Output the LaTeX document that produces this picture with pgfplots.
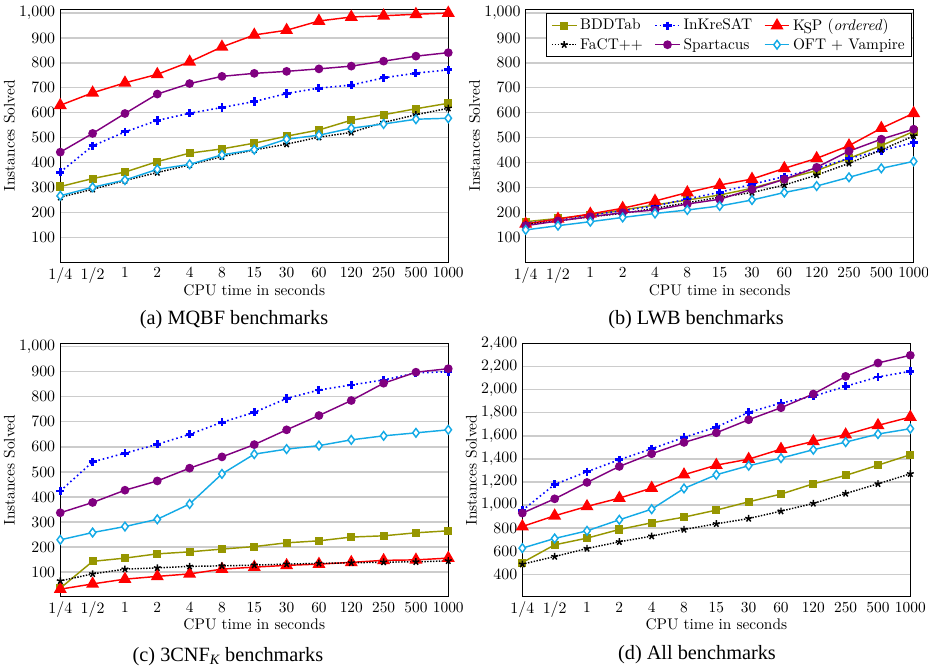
\documentclass[border=0pt]{standalone}
\usepackage{fontspec}
\usepackage{pgfplots}
\usepackage{pgfplotstable}
\pgfplotsset{compat=1.18}
\newfontfamily\capfont{Liberation Serif}
\definecolor{cOlive}{RGB}{150,150,0}
\definecolor{cCyan}{RGB}{20,170,230}
\definecolor{cViolet}{RGB}{128,0,128}

\pgfplotstableread{
x bdd fact ink ksp spa oft
0 304 261 362 630 442 267
1 336 293 467 680 517 301
2 362 328 523 720 597 330
3 404 360 569 754 675 373
4 438 391 598 804 717 393
5 455 424 621 864 746 431
6 478 451 645 912 758 452
7 506 474 677 931 766 494
8 531 502 699 968 776 510
9 570 521 711 984 787 538
10 592 561 740 989 807 555
11 616 592 759 995 827 574
12 638 618 772 1000 841 578
}\tabA
\pgfplotstableread{
x bdd fact ink ksp spa oft
0 163 152 157 154 147 130
1 176 166 172 174 166 147
2 190 183 190 194 183 163
3 210 196 207 217 199 180
4 230 217 226 246 210 196
5 250 239 254 280 234 210
6 270 261 281 310 253 226
7 297 280 313 334 293 250
8 334 310 344 377 333 280
9 368 350 377 417 381 306
10 417 397 417 468 446 341
11 468 451 448 538 494 377
12 525 507 480 598 534 405
}\tabB
\pgfplotstableread{
x bdd fact ink ksp spa oft
0 36 65 424 32 337 229
1 143 93 540 53 378 258
2 156 112 575 72 427 282
3 173 117 610 83 464 311
4 181 123 650 93 515 372
5 192 125 698 112 560 492
6 202 128 738 120 609 571
7 217 132 793 127 668 591
8 225 135 827 132 725 605
9 240 137 847 139 785 628
10 245 140 867 147 854 644
11 257 141 895 149 898 656
12 265 145 900 156 912 668
}\tabC
\pgfplotstableread{
x bdd fact ink ksp spa oft
0 501 487 953 814 930 626
1 655 553 1179 907 1054 710
2 713 623 1289 988 1196 776
3 788 681 1393 1060 1335 872
4 846 730 1488 1147 1445 964
5 895 788 1587 1263 1543 1144
6 956 837 1676 1346 1627 1263
7 1028 883 1804 1398 1740 1341
8 1095 947 1885 1485 1844 1407
9 1184 1014 1943 1552 1963 1480
10 1257 1100 2030 1610 2116 1546
11 1346 1184 2111 1691 2232 1616
12 1436 1271 2160 1763 2299 1662
}\tabD

\pgfplotsset{
  myax/.style={
    scale only axis, width=267.7pt, height=174.6pt,
    anchor=south west,
    xmin=0, xmax=12, xtick={0,...,12},
    xticklabels={$1/4$,$1/2$,1,2,4,8,15,30,60,120,250,500,1000},
    ymajorgrids, grid style={line width=0.9pt, black!20},
    major tick length=0pt,
    xlabel={CPU time in seconds}, ylabel={Instances Solved},
    scaled y ticks=false,
    axis line style={line width=0.8pt},
    clip=false,
    tick label style={font=\fontsize{10.6}{12}\selectfont},
    label style={font=\fontsize{10.6}{12}\selectfont},
    xlabel style={yshift=6pt},
    ylabel style={yshift=-4pt},
  },
  sbdd/.style={cOlive, line width=1pt, mark=square*, mark size=2.3pt},
  sfact/.style={black, densely dotted, line width=1pt, mark=star, mark size=2.5pt, mark options={solid}},
  sink/.style={blue, dotted, line width=1.1pt, mark=+, mark size=2.8pt, mark options={solid, line width=2pt}},
  sksp/.style={red, line width=1pt, mark=triangle*, mark size=4.2pt},
  sspa/.style={cViolet, line width=1pt, mark=*, mark size=2.5pt},
  soft/.style={cCyan, line width=1pt, mark=diamond*, mark size=3pt, mark options={fill=white, line width=1pt}},
}
\newcommand{\KSP}{K\kern-0.08em\raisebox{-0.45ex}{S}\kern-0.02emP}

\begin{document}
\begin{tikzpicture}
\useasboundingbox (0,0) rectangle (640.3pt,-463.0pt);

% (a)
\begin{axis}[myax, at={(41.6pt,-181.0pt)}, ymin=0, ymax=1015, ytick={100,200,...,1000}]
\addplot[sbdd] table[x=x,y=bdd]{\tabA};
\addplot[sink] table[x=x,y=ink]{\tabA};
\addplot[sksp] table[x=x,y=ksp]{\tabA};
\addplot[sfact] table[x=x,y=fact]{\tabA};
\addplot[sspa] table[x=x,y=spa]{\tabA};
\addplot[soft] table[x=x,y=oft]{\tabA};
\end{axis}

% (b)
\begin{axis}[myax, at={(362.7pt,-181.0pt)}, ymin=0, ymax=1015, ytick={100,200,...,1000},
  legend columns=3,
  legend style={at={(0.997,0.985)}, anchor=north east, draw=black, line width=0.8pt,
    font=\fontsize{10.6}{12}\selectfont,
    /tikz/every even column/.append style={column sep=6pt},
    inner ysep=1pt, row sep=-1pt, nodes={inner ysep=2.5pt}},
  legend cell align=left]
\addplot[sbdd] table[x=x,y=bdd]{\tabB}; \addlegendentry{BDDTab}
\addplot[sink] table[x=x,y=ink]{\tabB}; \addlegendentry{InKreSAT}
\addplot[sksp] table[x=x,y=ksp]{\tabB}; \addlegendentry{\KSP{} (\textit{ordered})}
\addplot[sfact] table[x=x,y=fact]{\tabB}; \addlegendentry{FaCT++}
\addplot[sspa] table[x=x,y=spa]{\tabB}; \addlegendentry{Spartacus}
\addplot[soft] table[x=x,y=oft]{\tabB}; \addlegendentry{OFT + Vampire}
\end{axis}

% (c)
\begin{axis}[myax, at={(41.6pt,-411.7pt)}, ymin=2, ymax=1012, ytick={100,200,...,1000}]
\addplot[sbdd] table[x=x,y=bdd]{\tabC};
\addplot[sink] table[x=x,y=ink]{\tabC};
\addplot[sksp] table[x=x,y=ksp]{\tabC};
\addplot[sfact] table[x=x,y=fact]{\tabC};
\addplot[sspa] table[x=x,y=spa]{\tabC};
\addplot[soft] table[x=x,y=oft]{\tabC};
\end{axis}

% (d)
\begin{axis}[myax, at={(360.4pt,-411.7pt)}, ymin=205, ymax=2400, ytick={400,600,...,2400}]
\addplot[sbdd] table[x=x,y=bdd]{\tabD};
\addplot[sink] table[x=x,y=ink]{\tabD};
\addplot[sksp] table[x=x,y=ksp]{\tabD};
\addplot[sfact] table[x=x,y=fact]{\tabD};
\addplot[sspa] table[x=x,y=spa]{\tabD};
\addplot[soft] table[x=x,y=oft]{\tabD};
\end{axis}

\node[font=\capfont\fontsize{14}{16}\selectfont] at (161.5pt,-220.8pt) {(a) MQBF benchmarks};
\node[font=\capfont\fontsize{14}{16}\selectfont] at (480.2pt,-220.8pt) {(b) LWB benchmarks};
\node[font=\capfont\fontsize{14}{16}\selectfont] at (157.3pt,-453.3pt) {(c) 3CNF\textsubscript{\itshape K} benchmarks};
\node[font=\capfont\fontsize{14}{16}\selectfont] at (480.9pt,-452.0pt) {(d) All benchmarks};
\end{tikzpicture}
\end{document}
